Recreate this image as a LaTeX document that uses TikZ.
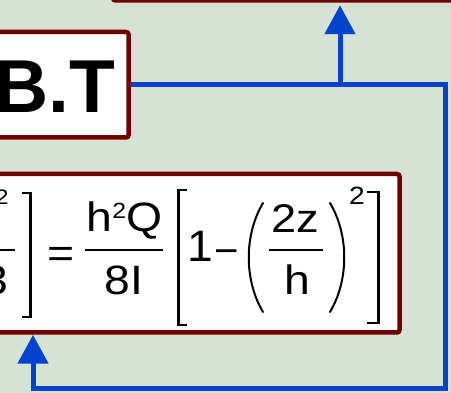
\documentclass[tikz,border=0pt]{standalone}
\usepackage{fontspec}
\usepackage{graphicx}
\setmainfont{Liberation Sans}
\usetikzlibrary{arrows.meta}
\definecolor{bgc}{RGB}{213,226,212}
\definecolor{frame}{RGB}{112,0,0}
\definecolor{flowc}{RGB}{0,68,204}
\newcommand{\eqf}[2]{\scalebox{1.13}[1]{\fontsize{#1}{#1}\selectfont #2}}
\tikzset{
  boxst/.style={draw=frame, line width=4.5pt, fill=white, rounded corners=2.5pt, inner sep=0pt},
  flowst/.style={draw=flowc, line width=5pt, line join=miter},
  tipst/.style={-{Triangle[width=30pt,length=29pt]}},
  txt/.style={inner sep=0pt, outer sep=0pt, text=black},
  eqbar/.style={line width=2pt, black},
  brk/.style={line width=2.8pt, black, line cap=butt, line join=miter},
  par/.style={line width=2pt, black, line cap=round}
}
\begin{document}
\begin{tikzpicture}[x=1pt,y=-1pt]
\useasboundingbox (0,0) rectangle (451,393);
\clip (0,0) rectangle (451,393);
\fill[bgc] (0,0) rectangle (451,393);
% boxes
\node[boxst, minimum width=367pt, minimum height=60.5pt] (top) at (296.5,-29.75) {};
\node[boxst, minimum width=148.5pt, minimum height=105.5pt] (bt) at (54.25,84.75) {};
\node[boxst, minimum width=419.5pt, minimum height=158.5pt] (eq) at (189.75,253.25) {};
% B.T text
\node[txt, anchor=base west, font=\fontsize{75}{75}\selectfont\bfseries] (btt) at (-5.5,113) {B.T};
% connectors
\coordinate (j) at (340,84.75);
\coordinate (c2) at (445.5,389);
\coordinate (c3) at (33,389);
\draw[flowst, tipst] (bt.east) -| (c2) -- (c3) -- (c3 |- eq.south);
\draw[flowst, tipst, shorten >=2.5pt] (j) -- (j |- top.south);
% equation, left clipped part
\node[txt, anchor=base east] (ls) at (8.5,205) {\eqf{21}{2}};
\draw[eqbar] (-5,250) -- (15,250);
\node[txt, anchor=base east] (ld) at (8,295) {\eqf{41}{3}};
\draw[brk] (22,193) -- (30.5,193) -- (30.5,317) -- (22,317);
% equals
\node[txt, anchor=base] (eqs) at (61,267.5) {\eqf{41}{=}};
% fraction h^2Q / 8I
\node[txt, anchor=base] (num1) at (124.5,232) {\eqf{41}{h\raisebox{13pt}{\fontsize{22}{22}\selectfont 2}Q}};
\draw[eqbar] (85,250) -- (163,250);
\node[txt, anchor=base] (den1) at (124,295) {\eqf{41}{8I}};
% bracket open
\draw[brk] (187,190) -- (178.5,190) -- (178.5,325) -- (187,325);
\node[txt, anchor=base west] (one) at (187.5,262) {\scalebox{1.05}[1]{\fontsize{44}{44}\selectfont 1}};
\node[txt, anchor=base] (minus) at (227,265) {\scalebox{1.05}[1]{\fontsize{40}{40}\selectfont −}};
% parentheses
\draw[par] (263,203) .. controls (244,235) and (244,280) .. (263,312);
\node[txt, anchor=base] (num2) at (295.5,233) {\eqf{40}{2z}};
\draw[eqbar] (269,250) -- (323,250);
\node[txt, anchor=base] (den2) at (297,295) {\eqf{41}{h}};
\draw[par] (330,203) .. controls (349,235) and (349,280) .. (330,312);
\node[txt, anchor=base] (rs) at (357,205) {\eqf{25}{2}};
% bracket close
\draw[brk] (367,192) -- (378.5,192) -- (378.5,323) -- (367,323);
\end{tikzpicture}
\end{document}
